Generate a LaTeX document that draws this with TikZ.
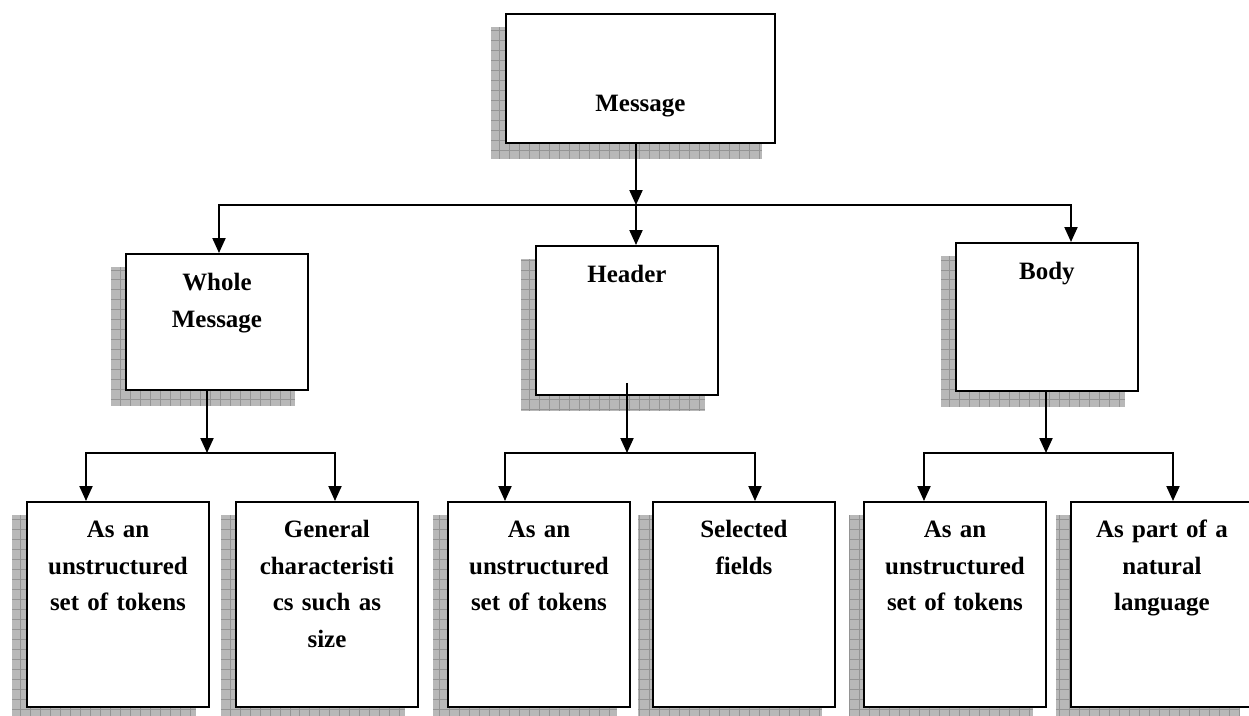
\documentclass[tikz,border=0pt]{standalone}
\usepackage{fontspec}
\setmainfont{Liberation Serif}
\usetikzlibrary{arrows.meta, backgrounds, calc}

\tikzset{
  box/.style={draw, line width=1.1pt, fill=white, anchor=north west, inner sep=0pt,
    align=center, text width=3.64cm, text height=0.74cm,
    font=\fontsize{14.2pt}{20.7pt}\selectfont\bfseries},
  link/.style={line width=1.1pt},
  arr/.style={link, -{Triangle[length=8.5pt, width=7.4pt]}},
  shade/.style={black!28},
}

\begin{document}
\begin{tikzpicture}[x=0.02cm, y=-0.02cm]
  \useasboundingbox (0,0) rectangle (1249,716);

  % top level
  \node[box, text width=5.38cm, text height=1.96cm, text depth=0.62cm] (msg) at (505,13) {Message};

  % second level
  \node[box, text depth=1.98cm] (whole) at (125,253) {Whole\\Message};
  \node[box, text depth=2.24cm] (head) at (535,245) {Header};
  \node[box, text depth=2.22cm] (body) at (955,242) {Body};

  % third level
  \foreach \nm/\xx/\txt in {w1/26/{As an\\unstructured\\set of tokens},
      w2/235/{General\\characteristi\\cs such as\\size},
      h1/447/{As an\\unstructured\\set of tokens},
      h2/652/{Selected\\fields},
      b1/863/{As an\\unstructured\\set of tokens},
      b2/1070/{As part of a\\natural\\language}}
    \node[box, text height=0.72cm, text depth=3.38cm] (\nm) at (\xx,501) {\txt};

  % shadows behind the boxes
  \begin{scope}[on background layer]
    \fill[white] (0,0) rectangle (1249,716);
    \foreach \n in {msg, whole, head, body, w1, w2, h1, h2, b1, b2} {
      \begin{scope}
        \clip ([shift={(-14,15)}]\n.north west) rectangle ([shift={(-14,15)}]\n.south east);
        \fill[shade] (0,0) rectangle (1249,740);
        \draw[black!42, line width=0.5pt, step=0.2cm] (0,0) grid (1249,740);
      \end{scope}
    }
  \end{scope}

  % message to the second level
  \coordinate (j0) at (636,205);
  \coordinate (j0l) at (219,205);
  \coordinate (j0r) at (1071,205);
  \draw[arr] (msg.south -| j0) -- (j0);
  \draw[arr] (j0) -- (j0l) -- (j0l |- whole.north);
  \draw[arr] (j0) -- (j0r) -- (j0r |- body.north);
  \draw[arr] (j0) -- (j0 |- head.north);

  % second level to the third
  \foreach \up/\sx/\sy/\lo/\lx/\hi/\hx in {whole/207/0/w1/86/w2/335,
      head/627/13/h1/505/h2/755, body/1046/0/b1/924/b2/1173} {
    \coordinate (s) at (\sx,453);
    \coordinate (l) at (\lx,453);
    \coordinate (r) at (\hx,453);
    \draw[arr] ($(\up.south -| s)+(0,-\sy)$) -- (s);
    \draw[arr] (s) -- (l) -- (l |- \lo.north);
    \draw[arr] (s) -- (r) -- (r |- \hi.north);
  }
\end{tikzpicture}
\end{document}
